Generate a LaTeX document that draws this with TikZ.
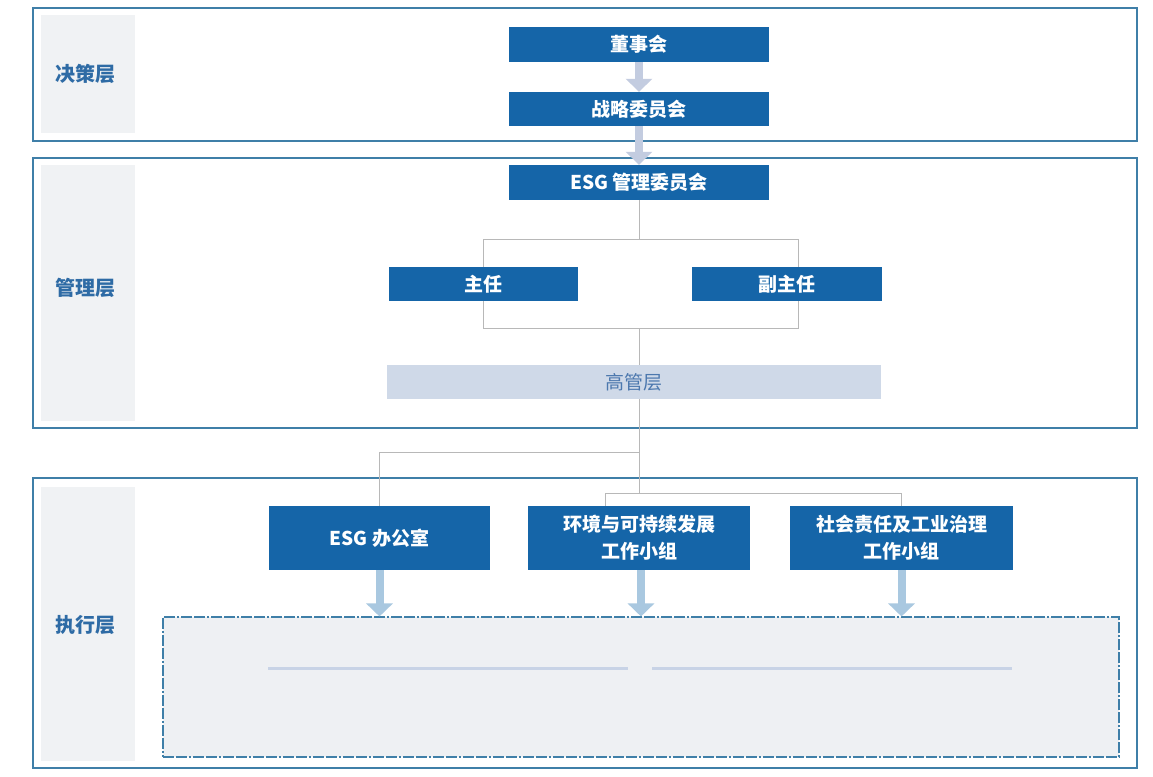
\documentclass[tikz,border=0pt]{standalone}
\usepackage{fontspec}
\setmainfont{Noto Sans CJK SC}
\usetikzlibrary{arrows.meta}
\definecolor{nodeblue}{HTML}{1565A8}
\definecolor{frameblue}{HTML}{3F7FA8}
\definecolor{labelblue}{HTML}{2E6BA5}
\definecolor{panelgrey}{HTML}{F0F2F4}
\definecolor{linegrey}{HTML}{B8B8B8}
\definecolor{arrowlav}{HTML}{C3CCE0}
\definecolor{arrowblue}{HTML}{A9C8E0}
\definecolor{mgmtfill}{HTML}{CFD9E8}
\definecolor{mgmttext}{HTML}{4C78AE}
\definecolor{dashfill}{HTML}{EEF0F3}
\definecolor{hdrline}{HTML}{C8D3E6}
\begin{document}
\begin{tikzpicture}[x=1pt,y=-1pt,
  layerbox/.style={draw=frameblue,line width=1.4pt},
  panel/.style={fill=panelgrey},
  layerlabel/.style={text=labelblue,font=\fontsize{20}{24}\selectfont\bfseries},
  bluebox/.style={fill=nodeblue,text=white,font=\fontsize{19}{27}\selectfont\bfseries,inner sep=0pt,align=center},
  mgmtbox/.style={fill=mgmtfill,text=mgmttext,font=\fontsize{19}{22}\selectfont,inner sep=0pt},
  conn/.style={draw=linegrey,line width=0.9pt},
  fatarrow/.style={draw=#1,line width=8pt,-{Triangle[width=26pt,length=13pt]}},
  workbox/.style={draw=frameblue,line width=1.1pt,fill=dashfill,dash pattern=on 11pt off 2pt on 11pt off 2pt on 2pt off 2pt,inner sep=0pt},
  hdr/.style={draw=hdrline,line width=3pt}
]
\useasboundingbox (0,0) rectangle (1153,776);
\fill[white] (0,0) rectangle (1153,776);

% layer frames
\draw[layerbox] (33,8) rectangle (1137,141);
\draw[layerbox] (33,158) rectangle (1137,428);
\draw[layerbox] (33,478) rectangle (1137,768);
\fill[panel] (41,15) rectangle (135,133);
\fill[panel] (41,165) rectangle (135,421);
\fill[panel] (41,487) rectangle (135,761);

\node[layerlabel] (l1) at (85,74) {决策层};
\node[layerlabel] (l2) at (85,288) {管理层};
\node[layerlabel] (l3) at (85,625) {执行层};

% working area
\node[workbox,minimum width=956pt,minimum height=140pt] (work) at (641,687) {};
\draw[hdr] (268,668) -- (628,668);
\draw[hdr] (652,668) -- (1012,668);

% coordinates for connector bends
\coordinate (bl) at (483,239);
\coordinate (br) at (798,239);
\coordinate (bl2) at (483,328);
\coordinate (br2) at (798,328);
\coordinate (j1) at (639,452);
\coordinate (j2) at (639,493);
\coordinate (ba) at (605,493);

% nodes
\node[bluebox,minimum width=260pt,minimum height=35pt] (dsh) at (639,44.5) {董事会};
\node[bluebox,minimum width=260pt,minimum height=34pt] (zl) at (639,109) {战略委员会};
\node[bluebox,minimum width=260pt,minimum height=35pt] (esg) at (639,182.5) {ESG 管理委员会};
\node[mgmtbox,minimum width=494pt,minimum height=34pt] (gg) at (634,382) {高管层};
\node[bluebox,minimum width=221pt,minimum height=64pt] (off) at (379.5,538) {ESG 办公室};
\node[bluebox,minimum width=222pt,minimum height=64pt] (env) at (639,538) {环境与可持续发展\\工作小组};
\node[bluebox,minimum width=223pt,minimum height=64pt] (soc) at (901.5,538) {社会责任及工业治理\\工作小组};

% bracket connectors, drawn before the two boxes that sit on them
\draw[conn] (esg.south) -- (esg.south |- bl);
\draw[conn] (bl) -- (br) -- (br2) -- (bl2) -- cycle;
\draw[conn] (esg.south |- gg.north) -- (esg.south |- bl2);
\node[bluebox,minimum width=189pt,minimum height=34pt] (zr) at (483.5,284) {主任};
\node[bluebox,minimum width=190pt,minimum height=34pt] (fzr) at (787,284) {副主任};

\draw[conn] (esg.south |- gg.south) -- (j2);
\draw[conn] (j1) -- (j1 -| off.north) -- (off.north);
\draw[conn] (ba |- env.north) -- (ba) -- (soc.north |- ba) -- (soc.north);

% arrows
\draw[fatarrow=arrowlav] (dsh.south) -- (zl.north);
\draw[fatarrow=arrowlav] (zl.south) -- (esg.north);
\draw[fatarrow=arrowblue] (off.south) -- (off.south |- work.north);
\draw[fatarrow=arrowblue] ([xshift=2pt]env.south) -- ([xshift=2pt]env.south |- work.north);
\draw[fatarrow=arrowblue] (soc.south) -- (soc.south |- work.north);
\end{tikzpicture}
\end{document}
